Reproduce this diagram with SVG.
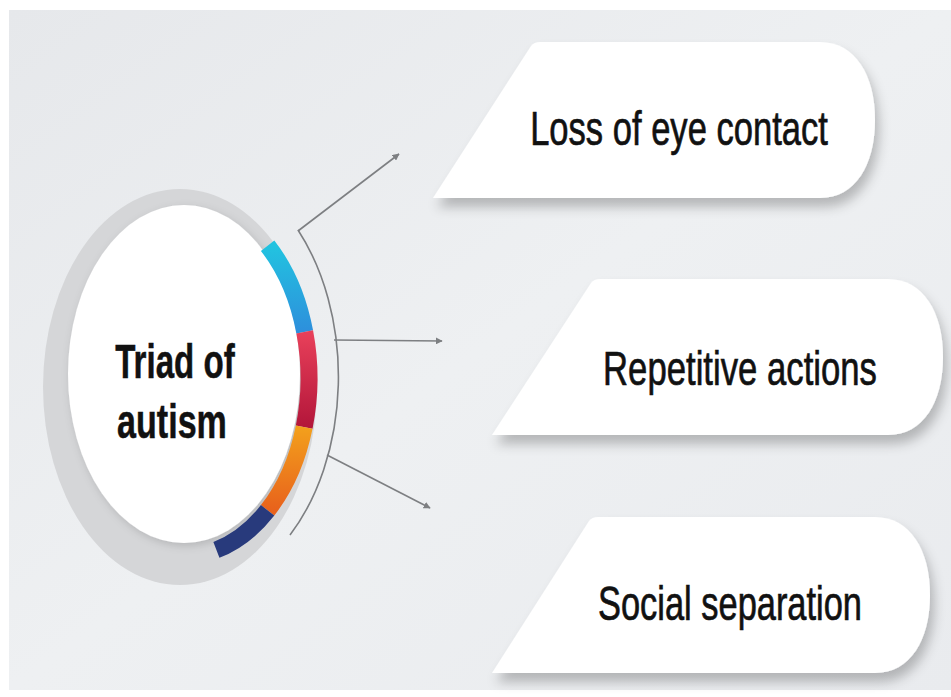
<svg xmlns="http://www.w3.org/2000/svg" width="951" height="697" viewBox="0 0 951 697">
<defs>
<linearGradient id="bg" x1="0" y1="0" x2="1" y2="1">
<stop offset="0" stop-color="#e6e8eb"/>
<stop offset="0.5" stop-color="#eef0f2"/>
<stop offset="1" stop-color="#e9ebee"/>
</linearGradient>
<linearGradient id="cyan" x1="0" y1="0" x2="0" y2="1">
<stop offset="0" stop-color="#22c3e0"/>
<stop offset="1" stop-color="#2d8fdc"/>
</linearGradient>
<linearGradient id="red" x1="0" y1="0" x2="0" y2="1">
<stop offset="0" stop-color="#e8405a"/>
<stop offset="1" stop-color="#b3163a"/>
</linearGradient>
<linearGradient id="orange" x1="0" y1="0" x2="0" y2="1">
<stop offset="0" stop-color="#f3a01c"/>
<stop offset="1" stop-color="#e8621c"/>
</linearGradient>
<filter id="shadow" x="-20%" y="-20%" width="140%" height="160%">
<feDropShadow dx="4" dy="9" stdDeviation="6" flood-color="#000" flood-opacity="0.24"/>
</filter>
<filter id="cshadow" x="-20%" y="-20%" width="140%" height="140%">
<feDropShadow dx="2" dy="3" stdDeviation="4" flood-color="#000" flood-opacity="0.15"/>
</filter>
<marker id="ah" viewBox="0 0 10 10" refX="9" refY="5" markerWidth="7" markerHeight="7" orient="auto" markerUnits="userSpaceOnUse">
<path d="M0,0 L10,5 L0,10 Z" fill="#7d7f82"/>
</marker>
<style>
.lbl{font-family:"Liberation Sans",Arial,sans-serif;font-size:48px;fill:#111;stroke:#111;stroke-width:0.7;text-anchor:middle}
.ctr{font-family:"Liberation Sans",Arial,sans-serif;font-size:48px;font-weight:bold;fill:#111;stroke:#111;stroke-width:0.5;text-anchor:middle}
.box{fill:#ffffff;filter:url(#shadow)}
.conn{fill:none;stroke:#7d7f82;stroke-width:1.6}
.seg{fill:none;stroke-width:17}
</style>
</defs>
<rect x="0" y="0" width="951" height="697" fill="#ffffff"/>
<rect x="9" y="10" width="942" height="680" fill="url(#bg)"/>

<g id="hub">
<ellipse cx="180" cy="387" rx="137" ry="198" fill="#d5d6d8"/>
<ellipse cx="184" cy="374" rx="116" ry="169" fill="#ffffff" filter="url(#cshadow)"/>
<path class="seg" stroke="url(#cyan)" d="M267.6,245.7 A125,178 0 0,1 304.7,331.9"/>
<path class="seg" stroke="url(#red)" d="M304.7,331.9 A125,178 0 0,1 304.2,427.1"/>
<path class="seg" stroke="url(#orange)" d="M304.2,427.1 A125,178 0 0,1 267.6,510.3"/>
<path class="seg" stroke="#283a7c" d="M267.6,510.3 A125,178 0 0,1 216.4,549.9"/>
<text class="ctr" transform="translate(175,378) scale(0.69,1)" x="0" y="0">Triad of</text>
<text class="ctr" transform="translate(172,438) scale(0.71,1)" x="0" y="0">autism</text>
</g>

<g id="connectors">
<path class="conn" d="M298,230 A150,215 0 0,1 290,535"/>
<line class="conn" x1="298" y1="231" x2="399" y2="154" marker-end="url(#ah)"/>
<line class="conn" x1="334" y1="340" x2="442" y2="341" marker-end="url(#ah)"/>
<line class="conn" x1="327" y1="455" x2="430" y2="508" marker-end="url(#ah)"/>
</g>

<g id="node1">
<path class="box" d="M433,198 L531,46 Q534,42 540,42 L820,42 C855,42 875,75 875,120 C875,165 855,198 820,198 Z"/>
<text class="lbl" transform="translate(679,145) scale(0.72,1)" x="0" y="0">Loss of eye contact</text>
</g>

<g id="node2">
<path class="box" d="M492,435 L591,283 Q594,279 600,279 L888,279 C923,279 943,312 943,357 C943,402 923,435 888,435 Z"/>
<text class="lbl" transform="translate(740,385) scale(0.723,1)" x="0" y="0">Repetitive actions</text>
</g>

<g id="node3">
<path class="box" d="M492,673 L589,521 Q592,517 598,517 L875,517 C910,517 930,550 930,595 C930,640 910,673 875,673 Z"/>
<text class="lbl" transform="translate(730,620) scale(0.717,1)" x="0" y="0">Social separation</text>
</g>
</svg>
